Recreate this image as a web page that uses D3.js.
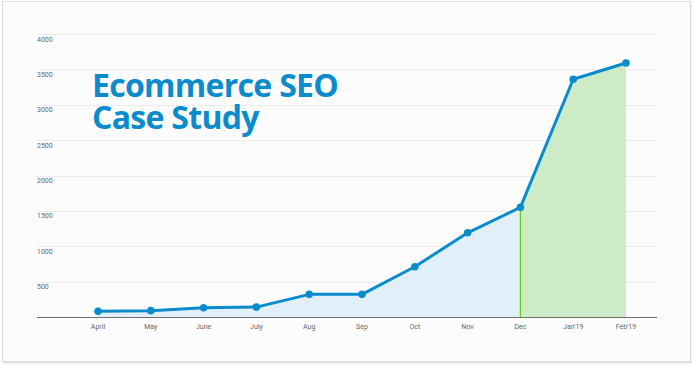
<!DOCTYPE html>
<html><head><meta charset="utf-8">
<script src="https://cdn.jsdelivr.net/npm/d3@7"></script>
<style>
html,body{margin:0;padding:0;background:#fff;}
svg{display:block;}
</style></head>
<body>
<svg id="chart" width="694" height="368"></svg>
<script>
const months = ["April","May","June","July","Aug","Sep","Oct","Nov","Dec","Jan'19","Feb'19"];
const sessions = [80, 90, 130, 140, 320, 320, 710, 1190, 1550, 3360, 3590];
const yTicks = [500, 1000, 1500, 2000, 2500, 3000, 3500, 4000];
const titleLines = ["Ecommerce SEO", "Case Study"];
const splitMonth = "Dec";

const svg = d3.select("#chart");
// panel
svg.append("rect").attr("x",3.5).attr("y",2.5).attr("width",688).attr("height",361)
  .attr("fill","#e2e2e2");
svg.append("rect").attr("x",2.5).attr("y",1.5).attr("width",688).attr("height",360)
  .attr("fill","#fcfcfc").attr("stroke","#dcdcdc").attr("stroke-width",1);

const x = d3.scalePoint().domain(months).range([98, 626]);
const y = d3.scaleLinear().domain([0, 4000]).range([317, 34]);
const left = 37, right = 656;

// gridlines
svg.append("g").selectAll("line").data(yTicks).join("line")
  .attr("x1", left).attr("x2", right)
  .attr("y1", d => Math.round(y(d)) + 0.5).attr("y2", d => Math.round(y(d)) + 0.5)
  .attr("stroke", "#ececec").attr("stroke-width", 1);
svg.append("g").selectAll("text").data(yTicks).join("text")
  .attr("x", left).attr("y", d => y(d) + 7.5)
  .attr("font-family", "Roboto, sans-serif").attr("font-size", 7)
  .attr("fill", "#666").text(d => d);

const data = months.map((m, i) => ({m, v: sessions[i]}));
const splitIdx = months.indexOf(splitMonth);

const area = d3.area().x(d => x(d.m)).y0(y(0)).y1(d => y(d.v));
svg.append("path").datum(data.slice(0, splitIdx + 1)).attr("d", area).attr("fill", "#e1eff8");
svg.append("path").datum(data.slice(splitIdx)).attr("d", area).attr("fill", "#ccebc6");

svg.append("line").attr("x1", x(splitMonth)).attr("x2", x(splitMonth))
  .attr("y1", y(sessions[splitIdx])).attr("y2", y(0))
  .attr("stroke", "#66cc11").attr("stroke-width", 1.2);

// axis line
svg.append("line").attr("x1", left).attr("x2", right + 1).attr("y1", 317.5).attr("y2", 317.5)
  .attr("stroke", "#6f6f6f").attr("stroke-width", 1.2);

// x labels
svg.append("g").selectAll("text").data(months).join("text")
  .attr("x", d => x(d)).attr("y", 329).attr("text-anchor", "middle")
  .attr("font-family", "Roboto, sans-serif").attr("font-size", 7)
  .attr("fill", "#666").text(d => d);

const line = d3.line().x(d => x(d.m)).y(d => y(d.v));
svg.append("path").datum(data).attr("d", line).attr("fill", "none")
  .attr("stroke", "#0a8ccc").attr("stroke-width", 3).attr("stroke-linejoin", "round");
svg.append("g").selectAll("circle").data(data).join("circle")
  .attr("cx", d => x(d.m)).attr("cy", d => y(d.v)).attr("r", 3.8).attr("fill", "#0a8ccc");

// title
svg.append("g").selectAll("text").data(titleLines).join("text")
  .attr("x", 92).attr("y", (d, i) => 97 + i * 32)
  .attr("font-family", "'Open Sans', sans-serif").attr("font-weight", 700)
  .attr("font-size", 32).attr("letter-spacing", -0.7).attr("fill", "#0a8ccc").text(d => d);
</script>
</body></html>
